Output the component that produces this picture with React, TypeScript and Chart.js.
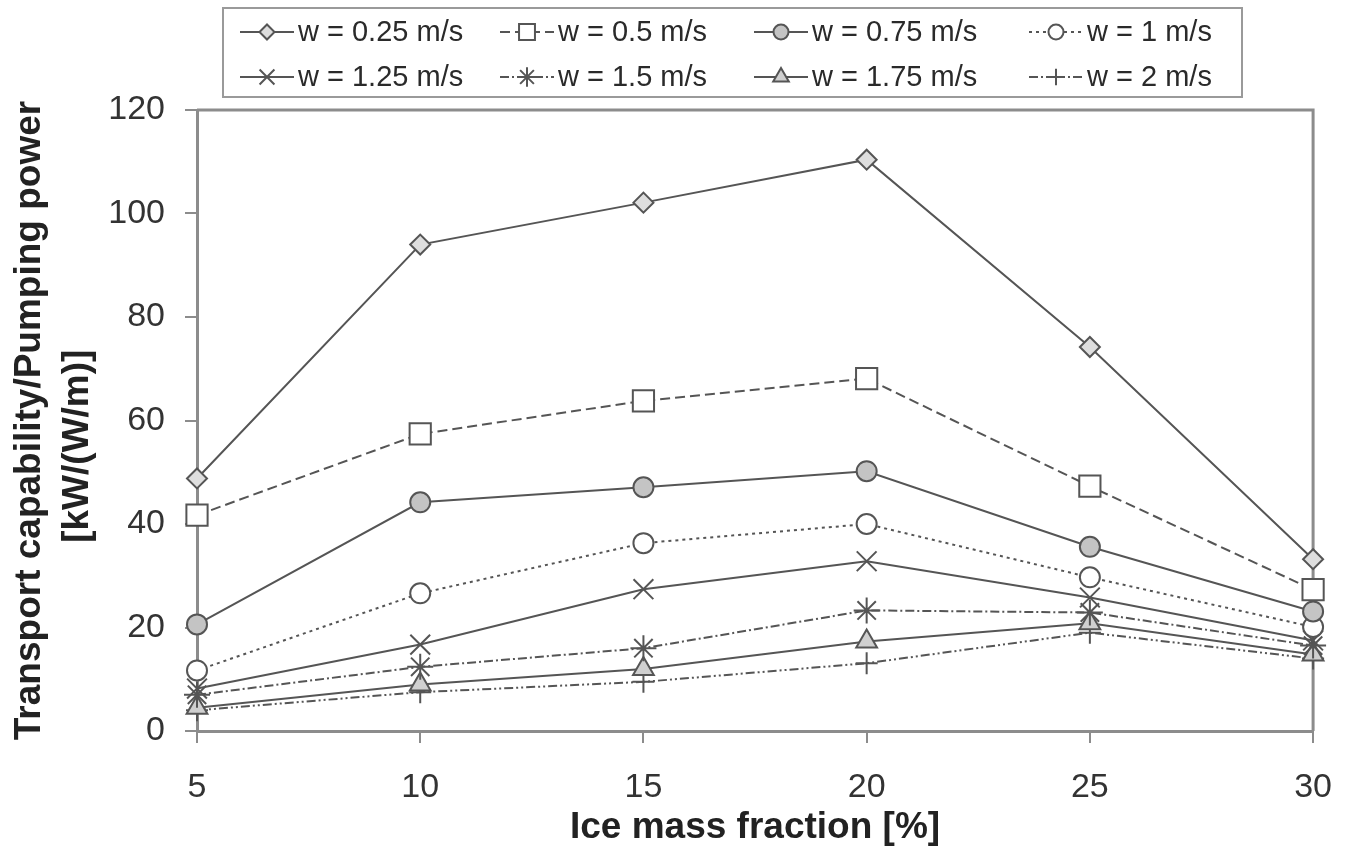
import React, { useEffect, useRef } from 'react';
import { Chart, registerables } from 'chart.js';
import { drawPoint } from 'chart.js/helpers';

Chart.register(...registerables);

const iceFraction = [5, 10, 15, 20, 25, 30];
const seriesLabels = [
  'w = 0.25 m/s',
  'w = 0.5 m/s',
  'w = 0.75 m/s',
  'w = 1 m/s',
  'w = 1.25 m/s',
  'w = 1.5 m/s',
  'w = 1.75 m/s',
  'w = 2 m/s',
];
const w025 = [48.8, 94.0, 102.1, 110.4, 74.2, 33.2];
const w050 = [41.7, 57.4, 63.8, 68.1, 47.3, 27.3];
const w075 = [20.6, 44.2, 47.1, 50.2, 35.6, 23.1];
const w100 = [11.7, 26.6, 36.3, 40.0, 29.7, 20.1];
const w125 = [8.2, 16.7, 27.4, 32.8, 25.8, 17.5];
const w150 = [7.0, 12.4, 16.0, 23.3, 22.9, 16.5];
const w175 = [4.5, 9.0, 12.0, 17.3, 20.8, 14.8];
const w200 = [4.0, 7.5, 9.5, 13.1, 19.0, 14.0];
const seriesValues = [w025, w050, w075, w100, w125, w150, w175, w200];
const yTicks = [0, 20, 40, 60, 80, 100, 120];

const LINE = '#555555';
const AXIS = '#8c8c8c';
const FONT = "'Liberation Sans', Arial, sans-serif";

const seriesStyles = [
  { pointStyle: 'rectRot', radius: 10, fill: '#dedede', dash: [] as number[] },
  { pointStyle: 'rect', radius: 15, fill: '#ffffff', dash: [10, 5] },
  { pointStyle: 'circle', radius: 10, fill: '#c4c4c4', dash: [] },
  { pointStyle: 'circle', radius: 10, fill: '#ffffff', dash: [3, 4] },
  { pointStyle: 'crossRot', radius: 14, fill: '#ffffff', dash: [] },
  { pointStyle: 'star', radius: 13, fill: '#ffffff', dash: [9, 3, 2, 3] },
  { pointStyle: 'triangle', radius: 12, fill: '#d0d0d0', dash: [] },
  { pointStyle: 'cross', radius: 11, fill: '#ffffff', dash: [9, 3, 2, 3, 2, 3] },
];

const framePlugin = {
  id: 'frame',
  beforeDatasetsDraw(chart: any) {
    const { ctx, chartArea } = chart;
    ctx.save();
    ctx.strokeStyle = AXIS;
    ctx.lineWidth = 3;
    ctx.beginPath();
    ctx.moveTo(chartArea.left, chartArea.top);
    ctx.lineTo(chartArea.right, chartArea.top);
    ctx.lineTo(chartArea.right, chartArea.bottom);
    ctx.stroke();
    ctx.restore();
  },
};

const boxLegendPlugin = {
  id: 'boxLegend',
  afterDraw(chart: any) {
    const ctx = chart.ctx;
    ctx.save();
    ctx.strokeStyle = '#9a9a9a';
    ctx.lineWidth = 2;
    ctx.strokeRect(223, 8, 1019, 89);
    const textX = [298, 558, 812, 1087];
    const rowY = [32, 77];
    ctx.font = `29px ${FONT}`;
    ctx.textBaseline = 'middle';
    ctx.textAlign = 'left';
    chart.data.datasets.forEach((ds: any, i: number) => {
      const col = i % 4;
      const row = Math.floor(i / 4);
      const tx = textX[col];
      const y = rowY[row];
      ctx.strokeStyle = LINE;
      ctx.lineWidth = 2;
      ctx.setLineDash(ds.borderDash || []);
      ctx.beginPath();
      ctx.moveTo(tx - 58, y);
      ctx.lineTo(tx - 4, y);
      ctx.stroke();
      ctx.setLineDash([]);
      ctx.fillStyle = ds.pointBackgroundColor;
      ctx.strokeStyle = LINE;
      ctx.lineWidth = 2;
      drawPoint(ctx, { pointStyle: ds.pointStyle, radius: ds.pointRadius * 0.75, rotation: 0, borderWidth: 2 } as any, tx - 31, y);
      ctx.fillStyle = '#2a2a2a';
      ctx.fillText(ds.label, tx, y + 1);
    });
    ctx.restore();
  },
};

export default function App() {
  const canvasRef = useRef<HTMLCanvasElement | null>(null);

  useEffect(() => {
    const canvas = canvasRef.current;
    if (!canvas) return;
    const datasets = seriesValues.map((vals, i) => {
      const st = seriesStyles[i];
      return {
        label: seriesLabels[i],
        data: vals.map((v, j) => ({ x: iceFraction[j], y: v })),
        borderColor: LINE,
        borderWidth: 2,
        borderDash: st.dash,
        pointStyle: st.pointStyle,
        pointRadius: st.radius,
        pointBackgroundColor: st.fill,
        pointBorderColor: LINE,
        pointBorderWidth: 2,
        tension: 0,
        fill: false,
        clip: false,
      };
    });
    const chart = new Chart(canvas, {
      type: 'line',
      data: { datasets } as any,
      plugins: [framePlugin, boxLegendPlugin],
      options: {
        animation: false,
        responsive: false,
        maintainAspectRatio: false,
        layout: { padding: { top: 110, right: 40, bottom: 0, left: 0 } },
        plugins: { legend: { display: false }, tooltip: { enabled: false } },
        scales: {
          x: {
            type: 'linear',
            min: iceFraction[0],
            max: iceFraction[iceFraction.length - 1],
            afterBuildTicks(scale: any) {
              scale.ticks = iceFraction.map((v) => ({ value: v }));
            },
            ticks: { font: { family: FONT, size: 34 }, color: '#333333', padding: 24, maxRotation: 0 },
            grid: { drawOnChartArea: false, tickLength: 12, color: AXIS, lineWidth: 2 },
            border: { color: AXIS, width: 3 },
            title: {
              display: true,
              text: 'Ice mass fraction [%]',
              font: { family: FONT, size: 37, weight: 'bold', lineHeight: 1.3 },
              color: '#222222',
              padding: { top: 0, bottom: 1 },
            },
            afterFit(scale: any) {
              scale.height = 122;
            },
          },
          y: {
            min: yTicks[0],
            max: yTicks[yTicks.length - 1],
            afterBuildTicks(scale: any) {
              scale.ticks = yTicks.map((v) => ({ value: v }));
            },
            ticks: { font: { family: FONT, size: 34 }, color: '#333333', padding: 20 },
            grid: { drawOnChartArea: false, tickLength: 12, color: AXIS, lineWidth: 2 },
            border: { color: AXIS, width: 3 },
            title: {
              display: true,
              text: ['Transport capability/Pumping power', '[kW/(W/m)]     '],
              font: { family: FONT, size: 37, weight: 'bold', lineHeight: 1.3 },
              color: '#222222',
              padding: { top: 6, bottom: 0 },
            },
            afterFit(scale: any) {
              scale.width = 197;
            },
          },
        },
      } as any,
    });
    return () => chart.destroy();
  }, []);

  return (
    <div style={{ position: 'fixed', left: 0, top: 0, width: 1356, height: 853, background: '#ffffff' }}>
      <canvas ref={canvasRef} width={1356} height={853} style={{ display: 'block' }} />
    </div>
  );
}
